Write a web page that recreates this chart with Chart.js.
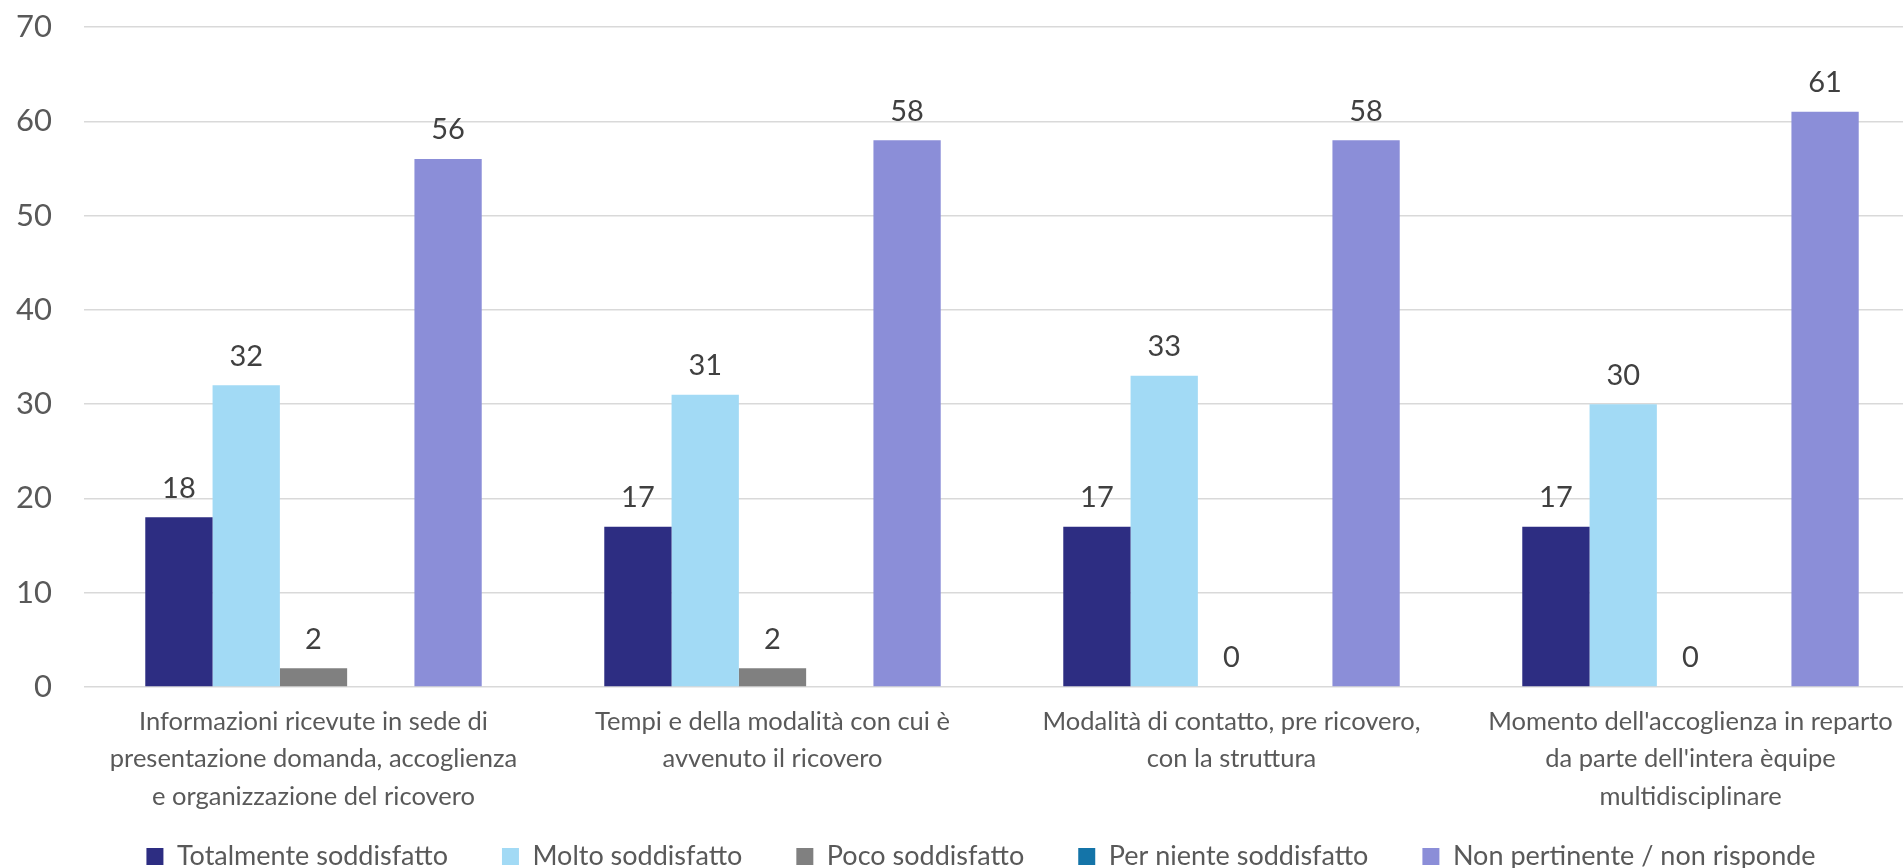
<!DOCTYPE html>
<html lang="it">
<head>
<meta charset="utf-8">
<title>Soddisfazione ricovero</title>
<script src="https://cdn.jsdelivr.net/npm/chart.js@4.4.1/dist/chart.umd.min.js"></script>
<style>
  html, body { margin: 0; padding: 0; background: #fff; overflow: hidden; }
  #wrap { width: 1920px; height: 868px; position: relative; }
</style>
</head>
<body>
<div id="wrap"><canvas id="myChart"></canvas></div>
<script>
// Categorie (etichette asse x su più righe)
const categorie = [
    ['Informazioni ricevute in sede di', 'presentazione domanda, accoglienza', 'e organizzazione del ricovero'],
    ['Tempi e della modalità con cui è', 'avvenuto il ricovero'],
    ['Modalità di contatto, pre ricovero,', 'con la struttura'],
    ["Momento dell'accoglienza in reparto", "da parte dell'intera èquipe", 'multidisciplinare']
];

// Valori per serie
const totalmente = [18, 17, 17, 17];
const molto = [32, 31, 33, 30];
const poco = [2, 2, 0, 0];
const perNiente = [0, 0, 0, 0];
const nonPertinente = [56, 58, 58, 61];

const tickY = [0, 10, 20, 30, 40, 50, 60, 70];

const FONT = 'Lato';
const testo = '#595959';

// Etichette valore sopra le barre
const etichetteBarre = {
    id: 'etichetteBarre',
    afterDatasetsDraw(chart) {
        const ctx = chart.ctx;
        ctx.save();
        ctx.font = '29px ' + FONT;
        ctx.fillStyle = '#404040';
        ctx.textAlign = 'center';
        ctx.textBaseline = 'middle';
        chart.data.datasets.forEach((ds, i) => {
            if (ds.senzaEtichette) return;
            chart.getDatasetMeta(i).data.forEach((bar, j) => {
                ctx.fillText(ds.data[j], bar.x, bar.y - 29);
            });
        });
        ctx.restore();
    }
};

// La legenda sale un po' verso le etichette dell'asse x
const posizionaLegenda = {
    id: 'posizionaLegenda',
    afterLayout(chart) {
        const lg = chart.legend;
        lg.top -= 27;
        lg.height = lg.bottom - lg.top;
        lg.left += 21;
        lg.right += 21;
    }
};

const data = {
    labels: categorie,
    datasets: [
        { label: 'Totalmente soddisfatto', data: totalmente, backgroundColor: '#2D2D82' },
        { label: 'Molto soddisfatto', data: molto, backgroundColor: '#A2DAF5' },
        { label: 'Poco soddisfatto', data: poco, backgroundColor: '#808080' },
        { label: 'Per niente soddisfatto', data: perNiente, backgroundColor: '#1474A8', senzaEtichette: true },
        { label: 'Non pertinente / non risponde', data: nonPertinente, backgroundColor: '#8B8ED8' }
    ]
};

const options = {
    responsive: true,
    maintainAspectRatio: false,
    animation: false,
    layout: { padding: { top: 27, left: 0, right: 0, bottom: 0 } },
    datasets: {
        bar: { categoryPercentage: 0.733, barPercentage: 1.0, borderWidth: 0 }
    },
    scales: {
        x: {
            grid: { display: false },
            border: { display: false },
            ticks: {
                color: testo,
                font: { family: FONT, size: 25.5, lineHeight: 1.47 },
                padding: 8,
                maxRotation: 0,
                autoSkip: false
            },
            afterFit: (axis) => { axis.height = 129; }
        },
        y: {
            min: 0,
            max: 70,
            grid: { color: '#D9D9D9', lineWidth: 1.5, drawTicks: false },
            border: { display: false },
            afterBuildTicks: (axis) => { axis.ticks = tickY.map(v => ({ value: v })); },
            ticks: {
                color: testo,
                font: { family: FONT, size: 31 },
                padding: 32
            },
            afterFit: (axis) => {
                axis.width = 84;
                axis.paddingTop = 0;
                axis.paddingBottom = 0;
            }
        }
    },
    plugins: {
        legend: {
            position: 'bottom',
            maxHeight: 52,
            labels: {
                color: testo,
                font: { family: FONT, size: 27 },
                boxWidth: 17,
                boxHeight: 17,
                padding: 54
            }
        },
        tooltip: { enabled: false }
    }
};

const ctx = document.getElementById('myChart').getContext('2d');
const myChart = new Chart(ctx, {
    type: 'bar',
    data: data,
    options: options,
    plugins: [etichetteBarre, posizionaLegenda]
});
</script>
</body>
</html>
